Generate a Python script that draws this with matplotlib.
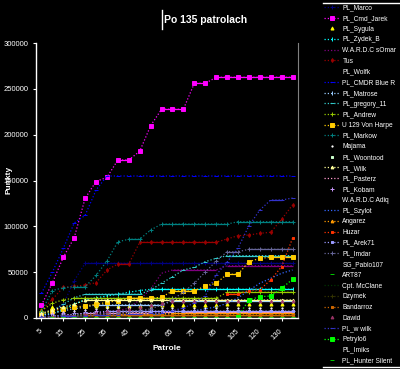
import matplotlib
matplotlib.use("Agg")
import matplotlib.pyplot as plt
import numpy as np
from matplotlib.collections import LineCollection
from matplotlib.lines import Line2D

plt.rcParams['font.family'] = ['Liberation Sans', 'DejaVu Sans']

nan = np.nan

# patrol numbers on the category axis
patrole = [5, 10, 15, 20, 25, 30, 35, 40, 45, 50, 55, 60, 65, 70, 75, 80, 85,
           95, 105, 115, 120, 125, 130, 135]

# points per player
marco = [2000, 5000, 15000, 40700] + [59700] * 20
cmd_jarek = [14000, 38500, 66200, 87600, 130600, 148900, 153500, 172400, 172400, 181900,
             209800, 227700, 227700, 227700, 256000, 256000] + [262600] * 8
sygula = [8700, 11700, 12500, 12500, 13000, 13000, 13000, 13500, 13500, 13500, 14000, 14000,
          14000, 14000, 14500, 14500, 14500, 15000, 15000, 15000, 15000, 15500, 15500, 15500]
zydek_b = [3000, 5000, 9000, 15000, 20000, 22000, 24000, 26000, 28000, 30000, 31300, 31300,
           31300, 31300, 31300, 31300, 31300, 31300, 31300, 31300, 31300, 31300, 31300, 31300]
somar = [1000, 2000, 3000, 3000, 4000, 5000, 6000, 8000, 10600, 20000, 31300, 48800,
         52400, 52400, 52400, 52400, 52400, 57000, 57000, 57000, 57000, 57000, 57000, 57000]
tus = [8000, 20400, 33500, 34500, 36000, 38500, 52400, 58900, 58900, 82600, 82600, 82600,
       82600, 82600, 82600, 82600, 82600, 86200, 89800, 90500, 92400, 93500, 107700, 123300]
wolfk = [0] * 24
cmdr_blue_r = [27000, 50000, 76000, 103600, 112000, 139600] + [154900] * 18
matrose = [3000, 5000, 8000, 10000, 12000, 14200, 14200, 14200, 14200, 14200, 14200, 14200,
           18900, 18900, 18900, 18900, 18900, 18900, 18900, 18900, 18900, 18900, 18900, 18900]
gregory_11 = [4000, 8000, 15000, 22000, 25900, 25900, 25900, 25900, 25900, 25900, 30500, 37900,
              45000, 52400, 55300, 61400, 65100] + [68000] * 7
andrew = [8000, 16000, 20000] + [21500] * 14 + [28000] * 7
von_harpe = [4000, 8000, 10000, 12000, 13000, 15000, 17000, 19000, 21500, 21500, 21500, 22600,
             29500, 29500, 29500, 34900, 37900, 47700, 47700, 61400, 65100, 66200, 66200, 66200]
markow = [7000, 30000, 33000, 34000, 34000, 46400, 62200, 83200, 85900, 85900, 96000] \
    + [102500] * 7 + [105000] * 6
majama = [3000, 5000, 7000, 8000, 9000, 10000] + [11000] * 18
woontood = [1500, 3000, 4000, 4500, 5000, 5000, 5500, 5500, 6000, 6000, 6000, 6500,
            6500, 6500, 7000, 7000, 7000, 7000, 7500, 7500, 7500, 8000, 8000, 8000]
wilk = [5000, 9000, 12000, 15000] + [19600] * 20
pasterz = [1000, 2000, 3000, 4000, 5000, 5000, 5500, 5500, 6000, 6000, 6000, 6500,
           6500] + [6900] * 11
kobam = [2000, 4000, 5000, 6000, 7000, 7500] + [8000] * 18
adiq = [0] * 24
szylot = [0, 500, 1000, 1500, 2000, 2500, 3000, 3000, 3500, 3500, 4000, 4000,
          5000, 6000, 8000, 10000, 12000, 16000, 22000, 30000, 37900, 43300, 48800, 52400]
angarez = [0, 1000, 1500, 2000, 2500, 3000, 3500, 4000, 4000, 4500, 4500, 5000] + [5100] * 12
huzar = [nan] * 17 + [25900, 25900, 30000, 31000, 41500, 56000, 87000]
arek71 = [1000, 2000, 3000, 4000, 5000, 6000] + [7500] * 18
imdar = [1000, 2000, 3000, 3500, 4000, 4500, 5000, 6000, 7000, 8000, 10000, 14000,
         20000, 28000, 38000, 50000, 62000, 72300, 72300, 75000, 75000, 75000, 75000, 75000]
pablo107 = [0] * 24
art87 = [500, 1000] + [1500] * 22
mcclane = [500, 1000, 2000] + [3000] * 21
dzymek = [500, 1000, 1500] + [2500] * 21
bandarroz = [500, 1000, 1500, 2000] + [3500] * 20
dawid = [nan] * 3 + [2000, 4000, 6000, 8000, 9000, 10000, 12000, 14000, 16000] + [19000] * 12
w_wilk = [1000, 1500, 2000, 2000, 2500, 3000, 3000, 3500, 4000, 4000, 5000, 6000,
          8000, 10900, 16400, 24000, 47000, 61000, 76400, 100400, 117800, 128700, 128700, 130900]
petrylo6 = [nan] * 18 + [1400, 19600, 23200, 24000, 32400, 42200]
imiks = [0] * 24
hunter_silent = [300, 600] + [1000] * 22

names = ["PL_Marco", "PL_Cmd_Jarek", "PL_Sygula", "PL_Zydek_B", "W.A.R.D.C sOmar", "Tus",
         "PL_Wolfk", "PL_CMDR Blue R", "PL_Matrose", "PL_gregory_11", "PL_Andrew",
         "U 129 Von Harpe", "PL_Markow", "Majama", "PL_Woontood", "PL_Wilk", "PL_Pasterz",
         "PL_Kobam", "W.A.R.D.C Adiq", "PL_Szylot", "Angarez", "Huzar", "PL_Arek71",
         "PL_Imdar", "SG_Pablo107", "ART87", "Cpt. McClane", "Dzymek", "Bandarroz", "Dawid",
         "PL_w wilk", "Petrylo6", "PL_Imiks", "PL_Hunter Silent"]
values = [marco, cmd_jarek, sygula, zydek_b, somar, tus, wolfk, cmdr_blue_r, matrose,
          gregory_11, andrew, von_harpe, markow, majama, woontood, wilk, pasterz, kobam,
          adiq, szylot, angarez, huzar, arek71, imdar, pablo107, art87, mcclane, dzymek,
          bandarroz, dawid, w_wilk, petrylo6, imiks, hunter_silent]

# (colour, marker, marker size, line: "flat" = solid on flat stretches, "dot" = dotted only)
styles = [("#000080", "+", 2.5, "flat"), ("#FF00FF", "s", 3.0, "flat"),
          ("#FFFF00", "^", 2.2, None), ("#00FFFF", "|", 2.5, "flat"),
          ("#800080", "", 0, "flat"), ("#990000", "d", 2.0, "flat"),
          ("#000000", "", 0, "flat"), ("#0000FF", "_", 3.0, "dot"),
          ("#99CCFF", "|", 2.5, "flat"), ("#33CCCC", "_", 2.5, "flat"),
          ("#99CC00", "+", 2.5, "flat"), ("#FFCC00", "s", 2.6, "flat"),
          ("#008080", "+", 2.5, "flat"), ("#FFFFFF", ".", 1.8, None),
          ("#CCFFCC", "s", 1.8, None), ("#FFFF99", "^", 2.0, "flat"),
          ("#FF99CC", "", 0, "flat"), ("#CC99FF", "+", 2.2, None),
          ("#000000", "", 0, None), ("#3366FF", "", 0, "flat"),
          ("#FF9900", "^", 2.0, "flat"), ("#FF3300", "s", 1.8, "flat"),
          ("#9999FF", "s", 1.8, "flat"), ("#666699", "+", 2.5, "flat"),
          ("#000000", "", 0, None), ("#00CC00", "_", 2.2, None),
          ("#003300", "", 0, "flat"), ("#333300", "+", 2.2, "flat"),
          ("#CC6600", "s", 1.8, "flat"), ("#993366", "^", 2.0, None),
          ("#3333CC", "_", 2.5, "flat"), ("#00FF00", "s", 2.2, "flat"),
          ("#000000", "", 0, None), ("#00CC00", "_", 2.2, None)]

fig = plt.figure(figsize=(4.0, 3.69), dpi=100, facecolor="black")
ax = fig.add_axes([36 / 400, 1 - 318 / 369, 262 / 400, 275 / 369])
ax.set_facecolor("black")

x = np.arange(len(patrole))
handles = []
for name, v, (col, mk, ms, line) in zip(names, values, styles):
    v = np.array(v, dtype=float)
    ls = (0, (1, 1.6)) if line else "none"
    ln, = ax.plot(x, v, color=col, lw=0.9, ls=ls, marker=mk if mk else None,
                  ms=ms, mew=0.7, label=name)
    handles.append(ln)
    if line == "flat":
        # flat stretches are drawn as solid lines
        segs = [[(i, v[i]), (i + 1, v[i + 1])] for i in range(len(v) - 1)
                if not np.isnan(v[i]) and v[i] == v[i + 1]]
        if segs:
            ax.add_collection(LineCollection(segs, colors=col, linewidths=0.9))

ax.set_xlim(-0.5, len(patrole) - 0.5)
ax.set_ylim(0, 300000)
ax.set_yticks(np.arange(0, 300001, 50000))
ax.set_yticklabels([str(t) for t in range(0, 300001, 50000)])
ax.set_xticks(x[::2])
ax.set_xticklabels([str(p) for p in patrole[::2]], rotation=45, ha="right",
                   rotation_mode="anchor", va="center")
ax.tick_params(axis="both", colors="white", labelsize=5.5, length=2.5, width=0.8)
ax.tick_params(axis="x", pad=6)
ax.tick_params(axis="y", pad=3)

for s in ["left", "bottom"]:
    ax.spines[s].set_color("white")
    ax.spines[s].set_linewidth(1)
ax.spines["right"].set_color("#808080")
ax.spines["top"].set_visible(False)

fig.text(206 / 400, 1 - 20 / 369, "Po 135 patrolach", ha="center", va="center",
         fontsize=7.5, fontweight="bold", color="white")
fig.add_artist(Line2D([162 / 400, 162 / 400], [1 - 10 / 369, 1 - 29 / 369],
                      color="white", lw=1))
fig.text(9 / 400, 1 - 180 / 369, "Punkty", rotation=90, ha="center", va="center",
         fontsize=6, fontweight="bold", color="white")
fig.text(167 / 400, 1 - 349 / 369, "Patrole", ha="center", va="center",
         fontsize=6, fontweight="bold", color="white")

fig.legend(handles, names, loc="upper left", bbox_to_anchor=(323 / 400, 1 - 3 / 369),
           frameon=False, fontsize=4.8, labelcolor="white", handlelength=2.2,
           handletextpad=0.5, labelspacing=0.555, borderpad=0.2, borderaxespad=0)
for yy in (3, 367):
    fig.add_artist(Line2D([323 / 400, 1], [1 - yy / 369] * 2, color="white", lw=1))

fig.savefig("out.png", dpi=100, facecolor="black")
